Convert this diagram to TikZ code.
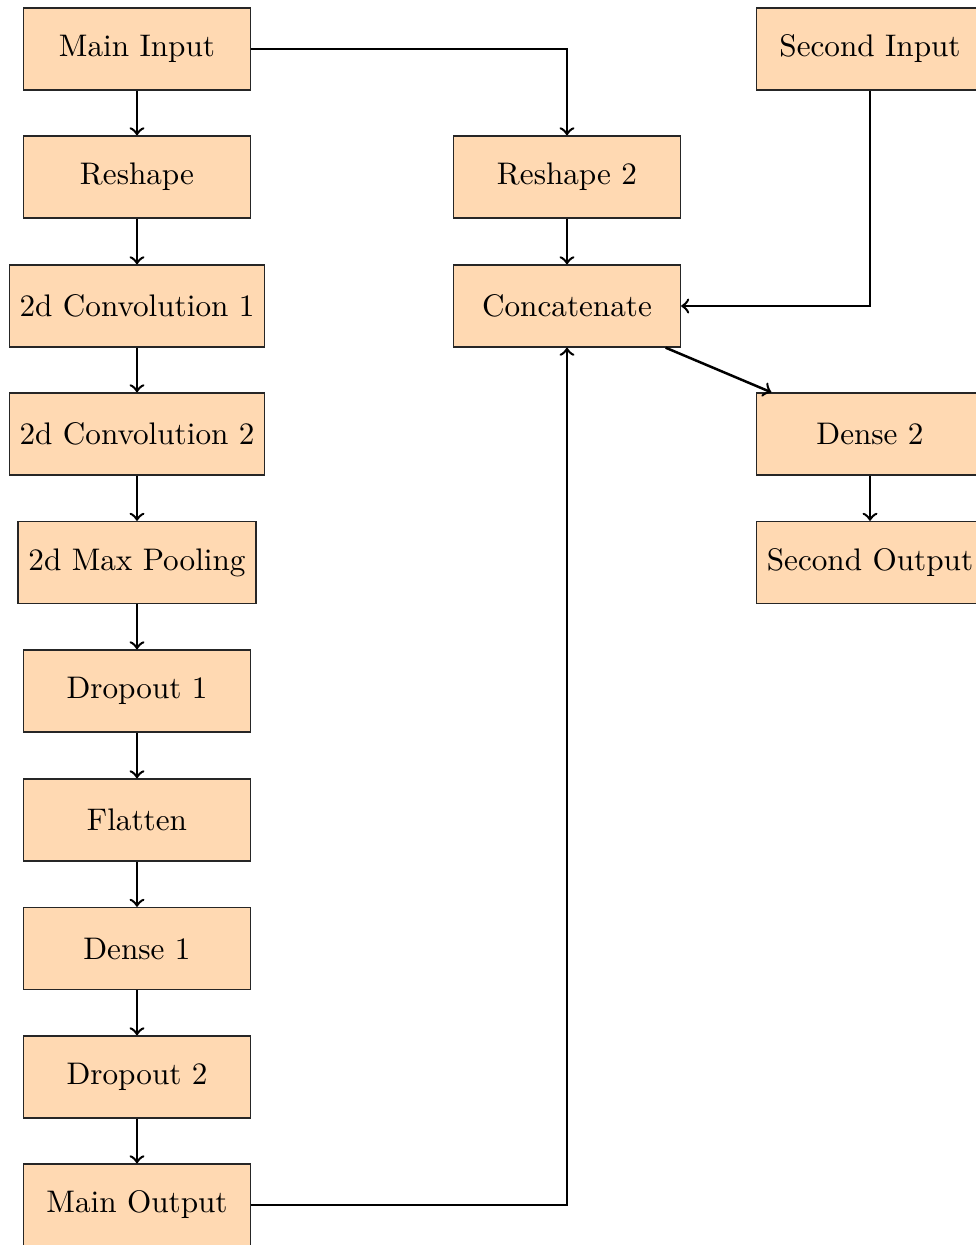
\documentclass[tikz,border=0pt]{standalone}
\begin{document}
\begin{tikzpicture}[x=0.3205pt,y=-0.3205pt,
  box/.style={draw=black!85, fill=orange!30, minimum width=72.75pt, minimum height=26.3pt, inner sep=3.33pt},
  conn/.style={->, thick}]
\useasboundingbox (0,0) rectangle (975,1245);
\node[box] (mi) at (137,49) {Main Input};
\node[box] (rs) at (137,177) {Reshape};
\node[box] (c1) at (137,306) {2d Convolution 1};
\node[box] (c2) at (137,434) {2d Convolution 2};
\node[box] (mp) at (137,562.5) {2d Max Pooling};
\node[box] (d1) at (137,691) {Dropout 1};
\node[box] (fl) at (137,820) {Flatten};
\node[box] (de1) at (137,948.5) {Dense 1};
\node[box] (d2) at (137,1077) {Dropout 2};
\node[box] (mo) at (137,1205) {Main Output};
\node[box] (r2) at (567,177) {Reshape 2};
\node[box] (cat) at (567,306) {Concatenate};
\node[box] (si) at (870,49) {Second Input};
\node[box] (de2) at (870,434) {Dense 2};
\node[box] (so) at (870,562.5) {Second Output};
\draw[conn] (mi) -- (rs);
\draw[conn] (rs) -- (c1);
\draw[conn] (c1) -- (c2);
\draw[conn] (c2) -- (mp);
\draw[conn] (mp) -- (d1);
\draw[conn] (d1) -- (fl);
\draw[conn] (fl) -- (de1);
\draw[conn] (de1) -- (d2);
\draw[conn] (d2) -- (mo);
\draw[conn] (mi.east) -| (r2.north);
\draw[conn] (r2) -- (cat);
\draw[conn] (si.south) |- (cat.east);
\draw[conn] (cat) -- (de2);
\draw[conn] (de2) -- (so);
\draw[conn] (mo.east) -| (cat.south);
\end{tikzpicture}
\end{document}
